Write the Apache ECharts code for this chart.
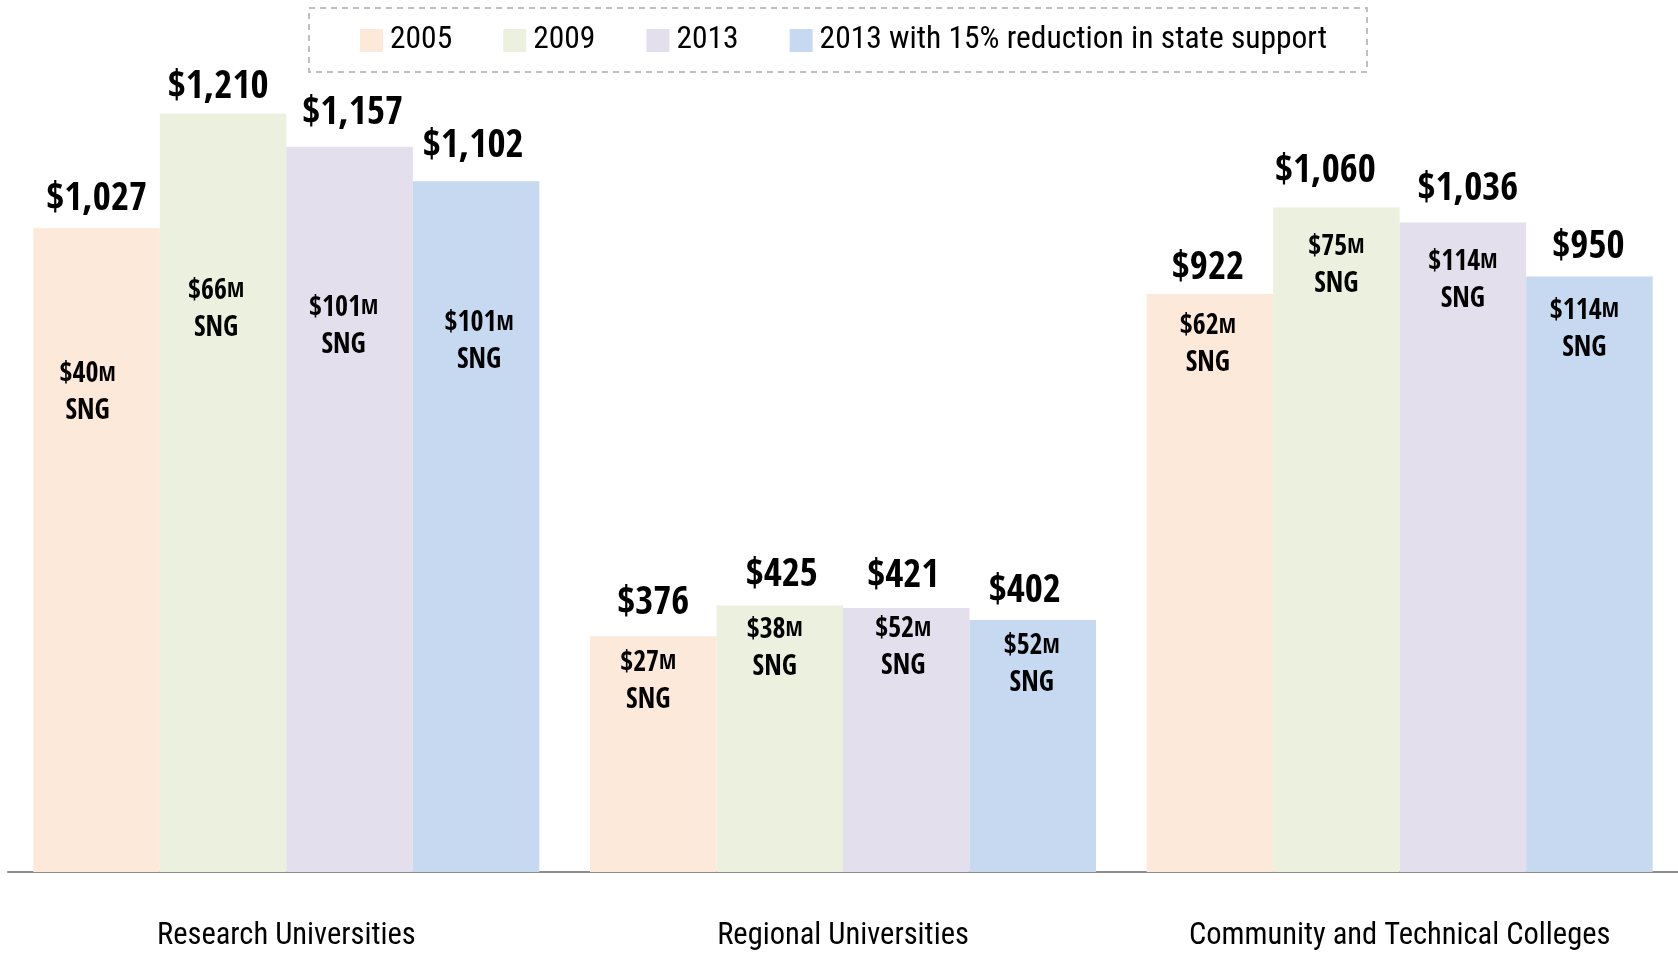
<!DOCTYPE html>
<html>
<head>
<meta charset="utf-8">
<script src="https://cdn.jsdelivr.net/npm/echarts@6/dist/echarts.min.js"></script>
<style>
    html, body { margin: 0; padding: 0; background: #fff; }
    #main { width: 1678px; height: 953px; }
</style>
</head>
<body>
<div id="main"></div>
<script>
// categories and series names
var categories = ["Research Universities", "Regional Universities", "Community and Technical Colleges"];
var seriesNames = ["2005", "2009", "2013", "2013 with 15% reduction in state support"];

// expenditure per series (one value per category)
var values2005 = [1027, 376, 922];
var values2009 = [1210, 425, 1060];
var values2013 = [1157, 421, 1036];
var values2013Cut = [1102, 402, 950];

// state need grant amounts ($M) shown inside the bars
var sng2005 = [40, 27, 62];
var sng2009 = [66, 38, 75];
var sng2013 = [101, 52, 114];
var sng2013Cut = [101, 52, 114];

var colors = ["#FDE9D9", "#EBF1DE", "#E4DFEC", "#C6D9F1"];
var font = "'Open Sans Condensed', 'Roboto Condensed', sans-serif";
var fontLight = "'Roboto Condensed', 'Open Sans Condensed', sans-serif";

// hand placement of labels, [dx, distance from bar top to text centre]
var topShift = [
    [[0, 28], [0, 32], [-2, 25]],
    [[-5, 26], [2, 30], [-11, 36]],
    [[3, 33], [-3, 31], [5, 33]],
    [[-3, 34], [-8, 28], [-1, 29]]
];
var innerShift = [
    [[-9, 147], [-5, 27], [-2, 33]],
    [[-7, 178], [-5, 25], [0, 40]],
    [[-6, 162], [-3, 22], [0, 40]],
    [[3, 143], [-1, 27], [-5, 35]]
];

var allValues = [values2005, values2009, values2013, values2013Cut];
var allSng = [sng2005, sng2009, sng2013, sng2013Cut];

function money(v) {
    return "$" + v.toLocaleString("en-US");
}

var series = [];
// visible bars with value on top
allValues.forEach(function(vals, s) {
    series.push({
        name: seriesNames[s],
        type: "bar",
        xAxisIndex: 0,
        barWidth: 126.5,
        barGap: "0%",
        itemStyle: { color: colors[s] },
        label: {
            show: true,
            position: "top",
            distance: 0,
            fontFamily: font,
            fontWeight: "bold",
            fontSize: 39,
            lineHeight: 37,
            color: "#000",
            formatter: function(p) { return money(p.value); }
        },
        data: vals.map(function(v, i) {
            return {
                value: v,
                label: { offset: [topShift[s][i][0], -(topShift[s][i][1] - 18.5)] }
            };
        })
    });
});
// transparent twins carrying the SNG text
allSng.forEach(function(sng, s) {
    series.push({
        name: seriesNames[s] + " SNG",
        type: "bar",
        xAxisIndex: 1,
        barWidth: 126.5,
        barGap: "0%",
        silent: true,
        itemStyle: { color: "transparent" },
        label: {
            show: true,
            position: "insideTop",
            distance: 0,
            color: "#000",
            formatter: function(p) {
                return "{v|$" + sng[p.dataIndex] + "}{m|M}\n{v|SNG}";
            },
            rich: {
                v: { fontFamily: font, fontWeight: "bold", fontSize: 28, lineHeight: 37, color: "#000" },
                m: { fontFamily: font, fontWeight: "bold", fontSize: 22, lineHeight: 37, color: "#000" }
            }
        },
        data: allValues[s].map(function(v, i) {
            return {
                value: v,
                label: { offset: [innerShift[s][i][0], innerShift[s][i][1] - 18.5] }
            };
        })
    });
});

var myChart = echarts.init(document.getElementById("main"));
var option = {
    animation: false,
    grid: { left: 8, right: 0, top: 0, bottom: 81, containLabel: false },
    legend: {
        data: seriesNames,
        left: 360,
        top: 24,
        padding: 0,
        itemWidth: 23,
        itemHeight: 23,
        itemGap: 51,
        icon: "rect",
        selectedMode: false,
        textStyle: { fontFamily: fontLight, fontWeight: "normal", fontSize: 31.5, lineHeight: 33, color: "#000", padding: [0, 0, 0, 2] }
    },
    graphic: [{
        type: "rect",
        shape: { x: 309, y: 8, width: 1058, height: 64 },
        style: { fill: "none", stroke: "#BFBFBF", lineWidth: 2, lineDash: [6, 5] },
        silent: true
    }],
    xAxis: [
        {
            type: "category",
            data: categories,
            axisTick: { show: false },
            axisLine: { lineStyle: { color: "#8C8C8C", width: 2 } },
            axisLabel: { interval: 0, margin: 48, fontFamily: fontLight, fontWeight: "normal", fontSize: 30.5, lineHeight: 32, color: "#000" }
        },
        {
            type: "category",
            data: categories,
            show: false
        }
    ],
    yAxis: {
        type: "value",
        min: 0,
        max: 1391,
        show: false
    },
    series: series
};
myChart.setOption(option);
</script>
</body>
</html>
